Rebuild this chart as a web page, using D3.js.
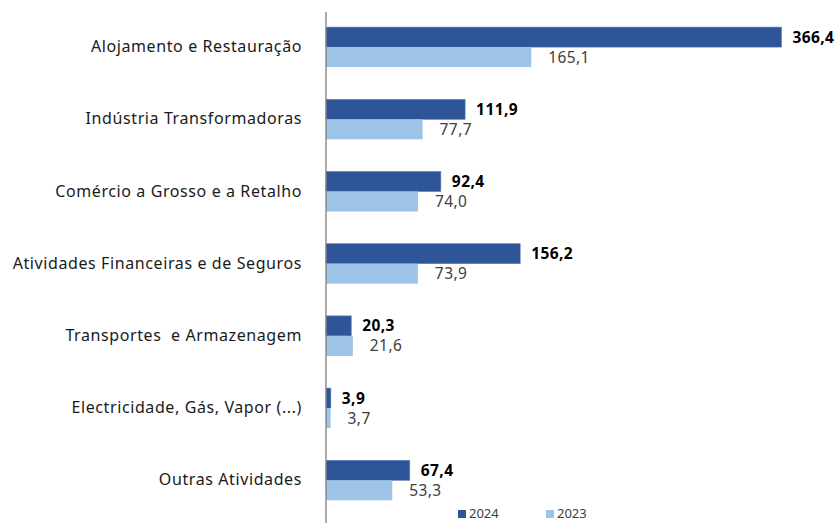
<!DOCTYPE html>
<html>
<head>
<meta charset="utf-8">
<script src="https://cdn.jsdelivr.net/npm/d3@7"></script>
<style>
  html, body { margin: 0; padding: 0; background: #fff; }
  svg { display: block; }
</style>
</head>
<body>
<svg id="chart" width="840" height="523"></svg>
<script>
const categories = [
  "Alojamento e Restauração",
  "Indústria Transformadoras",
  "Comércio a Grosso e a Retalho",
  "Atividades Financeiras e de Seguros",
  "Transportes  e Armazenagem",
  "Electricidade, Gás, Vapor (...)",
  "Outras Atividades"
];
const values2024 = [366.4, 111.9, 92.4, 156.2, 20.3, 3.9, 67.4];
const values2023 = [165.1, 77.7, 74.0, 73.9, 21.6, 3.7, 53.3];
const seriesNames = ["2024", "2023"];

const colors = { "2024": "#2E5597", "2023": "#9DC3E6" };
const font = "'Noto Sans', 'Open Sans', sans-serif";

const svg = d3.select("#chart");
const x0 = 326;
const x = d3.scaleLinear().domain([0, 366.4]).range([x0, 781.5]);
const y = d3.scaleBand().domain(categories).range([11, 516.4])
  .paddingInner(0.446).paddingOuter(0.223);
const sub = d3.scaleBand().domain(seriesNames).range([0, y.bandwidth()]);

const fmt = v => d3.format(".1f")(v).replace(".", ",");

const data = categories.map((c, i) => ({ c, v: { "2024": values2024[i], "2023": values2023[i] } }));

const g = svg.append("g");
data.forEach(d => {
  seriesNames.forEach(s => {
    const v = d.v[s];
    const yy = y(d.c) + sub(s);
    g.append("rect")
      .attr("x", x(0)).attr("y", yy)
      .attr("width", x(v) - x(0)).attr("height", sub.bandwidth())
      .attr("fill", colors[s])
      .attr("stroke", s === "2024" ? "#5b7fbf" : "none")
      .attr("stroke-width", 0.6);
    g.append("text")
      .attr("x", x(v) + (s === "2024" ? 11 : 17))
      .attr("y", yy + sub.bandwidth() / 2)
      .attr("dy", "0.35em")
      .attr("font-family", font)
      .attr("font-size", 15.5)
      .attr("letter-spacing", 0.4)
      .attr("font-weight", s === "2024" ? "bold" : "normal")
      .attr("fill", s === "2024" ? "#000" : "#404040")
      .text(fmt(v));
  });
});

// category axis
const yAxis = d3.axisLeft(y).tickSize(0).tickPadding(24);
const ax = svg.append("g").attr("transform", `translate(${x0},0)`).call(yAxis);
ax.select(".domain").remove();
ax.selectAll("text")
  .attr("font-family", font)
  .attr("font-size", 16)
  .attr("letter-spacing", 0.6)
  .attr("fill", "#1a1a1a")
  .style("white-space", "pre");

svg.append("line")
  .attr("x1", x0).attr("x2", x0)
  .attr("y1", 12).attr("y2", 523)
  .attr("stroke", "#7f7f7f").attr("stroke-width", 1.3);

// legend
const legend = svg.append("g");
const legendX = { "2024": 458, "2023": 546 };
seriesNames.forEach(s => {
  legend.append("rect")
    .attr("x", legendX[s]).attr("y", 510)
    .attr("width", 8).attr("height", 8)
    .attr("fill", colors[s]);
  legend.append("text")
    .attr("x", legendX[s] + 11).attr("y", 518)
    .attr("font-family", font)
    .attr("font-size", 13)
    .attr("fill", "#404040")
    .text(s);
});
</script>
</body>
</html>
